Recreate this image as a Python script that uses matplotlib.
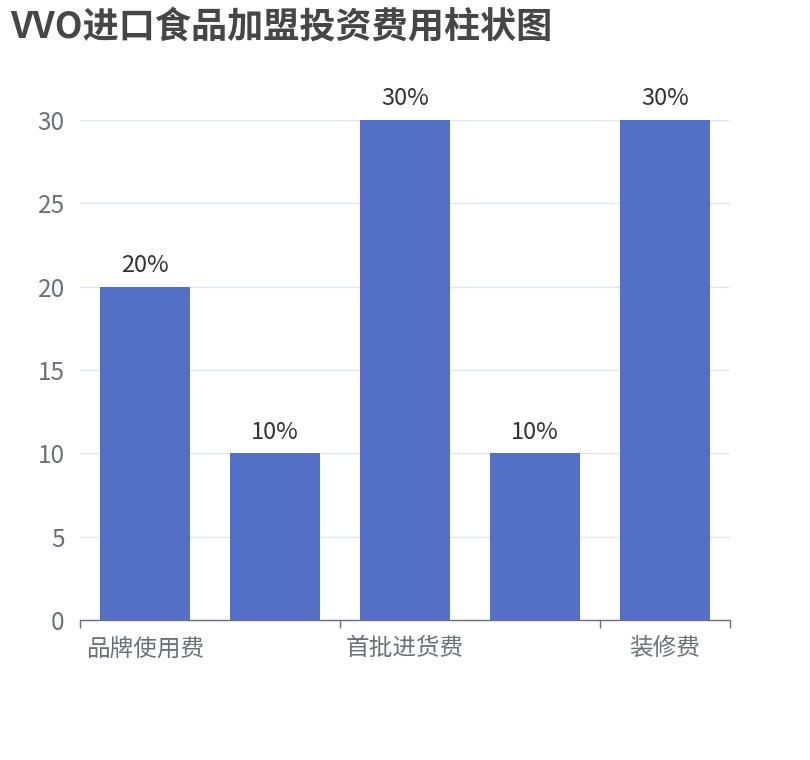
import matplotlib
matplotlib.use("Agg")
import matplotlib.pyplot as plt
import numpy as np

plt.rcParams['font.family'] = ['Noto Sans CJK SC', 'DejaVu Sans']

# data (labels of bars 2 and 4 are hidden in the original)
categories = ['品牌使用费', '', '首批进货费', '', '装修费']
values = [20, 10, 30, 10, 30]
bar_labels = ['20%', '10%', '30%', '10%', '30%']
title = 'VVO进口食品加盟投资费用柱状图'

fig = plt.figure(figsize=(8.1, 7.6), dpi=100)
ax = fig.add_axes([80 / 810, 140 / 760, 650 / 810, 500 / 760])

x = np.arange(len(categories))
bars = ax.bar(x, values, width=0.685, color='#5470C6', zorder=3)
ax.bar_label(bars, labels=bar_labels, padding=7, fontsize=17, color='#333333')

ax.set_xlim(-0.5, len(categories) - 0.5)
ax.set_ylim(0, 30)
ax.set_yticks(np.arange(0, 31, 5))
ax.grid(axis='y', color='#E0E6F1', linewidth=1, zorder=0)
ax.tick_params(axis='y', length=0, pad=11, labelsize=17.5, labelcolor='#6E7079')

# boundary ticks every other category, labels at centres
ax.set_xticks([-0.5, 1.5, 3.5, 4.5])
ax.set_xticklabels([])
ax.tick_params(axis='x', which='major', length=6, width=1, color='#6E7079')
ax.set_xticks(x[::2], minor=True)
ax.set_xticklabels([c for c in categories[::2]], minor=True)
ax.tick_params(axis='x', which='minor', length=0, pad=12.5, labelsize=17,
               labelcolor='#6E7079')

for side in ['top', 'right', 'left']:
    ax.spines[side].set_visible(False)
ax.spines['bottom'].set_color('#6E7079')
ax.spines['bottom'].set_linewidth(1)
ax.spines['bottom'].set_zorder(4)

fig.text(10 / 810, 1 - 27 / 760, title, fontsize=26, fontweight='bold',
         color='#464646', va='center', ha='left')

fig.savefig('out.png', dpi=100)
